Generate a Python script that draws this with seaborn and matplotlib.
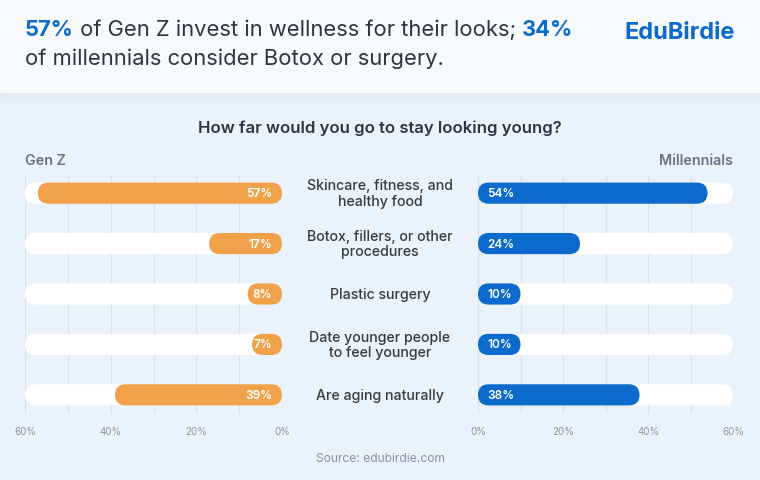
import matplotlib
matplotlib.use("Agg")
import matplotlib.pyplot as plt
from matplotlib.patches import FancyBboxPatch, Rectangle
import seaborn as sns

categories = [
    "Skincare, fitness, and\nhealthy food",
    "Botox, fillers, or other\nprocedures",
    "Plastic surgery",
    "Date younger people\nto feel younger",
    "Are aging naturally",
]
genz = [57, 17, 8, 7, 39]
millennials = [54, 24, 10, 10, 38]
track = [60, 60, 60, 60, 60]
tick_vals = [0, 10, 20, 30, 40, 50, 60]
tick_labels = ["0%", "", "20%", "", "40%", "", "60%"]

ORANGE = "#F0A24B"
BLUE = "#0B6ACB"
BG = "#EAF2FB"
HEADER = "#F7FAFD"
GRID = "#D6E1ED"
DARK = "#2E3440"
GREY = "#8A93A0"

sns.set_theme(style="white")
plt.rcParams["font.family"] = ["Inter", "DejaVu Sans"]

W, H = 760, 481
fig = plt.figure(figsize=(W / 100, H / 100), dpi=100)
fig.patch.set_facecolor(BG)

# header band with a soft shadow
for i, a in enumerate([0.05, 0.04, 0.03, 0.02, 0.01]):
    fig.patches.append(Rectangle((0, 1 - (94 + i * 2) / H), 1, (94 + i * 2) / H,
                                 transform=fig.transFigure, color="#c8d6e6",
                                 alpha=a, zorder=0))
fig.patches.append(Rectangle((0, 1 - 93 / H), 1, 93 / H, transform=fig.transFigure,
                             color=HEADER, zorder=0))


def fx(px):
    return px / W


def fy(py):
    return 1 - py / H


ax_top, ax_bot = 176, 415
axL = fig.add_axes([fx(25), fy(ax_bot), fx(282 - 25), (ax_bot - ax_top) / H])
axR = fig.add_axes([fx(478), fy(ax_bot), fx(733 - 478), (ax_bot - ax_top) / H])

bar_w = 0.42


def round_bars(ax, xpx, ypx):
    # replace seaborn's rectangles with pill shapes
    x_per_px = 60 / xpx
    y_per_px = (4.38 + 0.36) / ypx
    asp = y_per_px / x_per_px
    r = (bar_w / 2) / asp
    for p in list(ax.patches):
        x, y, w, h = p.get_x(), p.get_y(), p.get_width(), p.get_height()
        fc = p.get_facecolor()
        p.remove()
        ax.add_patch(FancyBboxPatch((x, y), w, h,
                                    boxstyle=f"round,pad=0,rounding_size={r}",
                                    mutation_aspect=asp, fc=fc, ec="none",
                                    zorder=3))


for ax, vals, col, xpx in [(axL, genz, ORANGE, 257), (axR, millennials, BLUE, 255)]:
    sns.barplot(x=track, y=categories, orient="h", color="white", width=bar_w,
                saturation=1, ax=ax)
    sns.barplot(x=vals, y=categories, orient="h", color=col, width=bar_w,
                saturation=1, ax=ax)
    ax.set_xlim(0, 60)
    ax.set_ylim(4.38, -0.36)
    round_bars(ax, xpx, ax_bot - ax_top)
    ax.set_facecolor("none")
    ax.set_xticks(tick_vals)
    ax.set_xticklabels(tick_labels)
    ax.tick_params(axis="x", length=0, pad=9, labelsize=7, labelcolor=GREY)
    ax.set_yticks([])
    ax.set_ylabel("")
    ax.set_xlabel("")
    ax.grid(axis="x", color=GRID, lw=0.8, zorder=0)
    ax.set_axisbelow(True)
    for s in ax.spines.values():
        s.set_visible(False)

axL.invert_xaxis()

for i, v in enumerate(genz):
    axL.text(2.3, i, f"{v}%", ha="right", va="center", color="white",
             fontsize=8.5, fontweight="semibold", zorder=5)
for i, v in enumerate(millennials):
    axR.text(2.2, i, f"{v}%", ha="left", va="center", color="white",
             fontsize=8.5, fontweight="semibold", zorder=5)

# category labels in the middle
for i, c in enumerate(categories):
    y = axL.transData.transform((0, i))[1]
    fig.text(0.5, fig.transFigure.inverted().transform((0, y))[1], c,
             ha="center", va="center", fontsize=10.2, color="#363B45",
             fontweight="medium", linespacing=1.15)

fig.text(fx(25), fy(161), "Gen Z", ha="left", va="center", fontsize=10.3,
         color="#6B7280", fontweight="semibold")
fig.text(fx(733), fy(161), "Millennials", ha="right", va="center", fontsize=10.3,
         color="#6B7280", fontweight="semibold")
fig.text(0.5, fy(128), "How far would you go to stay looking young?", ha="center",
         va="center", fontsize=12, color=DARK, fontweight="semibold")
fig.text(0.5, fy(459), "Source: edubirdie.com", ha="center", va="center",
         fontsize=8.7, color=GREY)
fig.text(fx(735), fy(33), "EduBirdie", ha="right", va="center", fontsize=17,
         color=BLUE, fontweight="bold")

# title with coloured numbers
fig.canvas.draw()
renderer = fig.canvas.get_renderer()
x0 = fx(25)
pieces = [("57%", BLUE, "bold"), (" of Gen Z invest in wellness for their looks; ", DARK, "normal"),
          ("34%", BLUE, "bold")]
for txt, col, wt in pieces:
    t = fig.text(x0, fy(30), txt, ha="left", va="center", fontsize=15.8, color=col,
                 fontweight=wt)
    bb = t.get_window_extent(renderer)
    x0 = fig.transFigure.inverted().transform((bb.x1, 0))[0]
fig.text(fx(25), fy(59), "of millennials consider Botox or surgery.", ha="left",
         va="center", fontsize=15.8, color=DARK)

fig.savefig("out.png", dpi=100, facecolor=BG)
